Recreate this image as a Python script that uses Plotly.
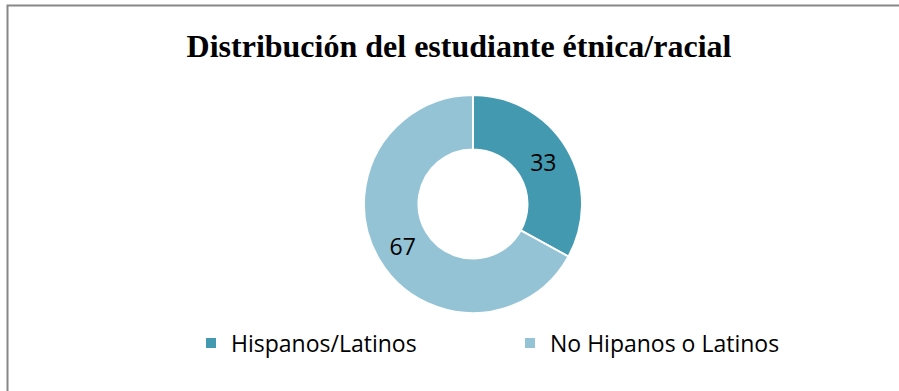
import plotly.graph_objects as go

# Student ethnic/racial distribution (percent)
categories = ["Hispanos/Latinos", "No Hipanos o Latinos"]
values = [33, 67]
colors = ["#4299B0", "#93C3D5"]

W, H = 899, 391
cx, cy, r = 473, 204, 109  # pie centre and radius in px

fig = go.Figure(
    go.Pie(
        labels=categories,
        values=values,
        hole=0.5,
        sort=False,
        direction="clockwise",
        rotation=0,
        marker=dict(colors=colors, line=dict(color="white", width=2)),
        textinfo="value",
        textposition="inside",
        insidetextorientation="horizontal",
        textfont=dict(family="Open Sans", size=23, color="black"),
        hoverinfo="label+value",
        domain=dict(
            x=[(cx - r) / W, (cx + r) / W],
            y=[(H - cy - r) / H, (H - cy + r) / H],
        ),
    )
)

fig.update_layout(
    width=W,
    height=H,
    margin=dict(l=0, r=0, t=0, b=0),
    paper_bgcolor="white",
    plot_bgcolor="white",
    title=dict(
        text="<b>Distribución del estudiante étnica/racial</b>",
        font=dict(family="Liberation Serif", size=32, color="black"),
        x=459 / W,
        xanchor="center",
        y=1 - 46 / H,
        yanchor="middle",
    ),
    showlegend=True,
    legend=dict(
        orientation="h",
        x=191 / W,
        xanchor="left",
        y=1 - 343 / H,
        yanchor="middle",
        font=dict(family="Open Sans", size=23, color="black"),
        entrywidth=274,
        itemclick=False,
    ),
    shapes=[
        dict(
            type="rect",
            xref="paper",
            yref="paper",
            x0=7.5 / W,
            x1=1.05,
            y0=-0.05,
            y1=1 - 5.5 / H,
            line=dict(color="#878787", width=2),
            fillcolor="rgba(0,0,0,0)",
        )
    ],
)

fig.write_html("out.html")
